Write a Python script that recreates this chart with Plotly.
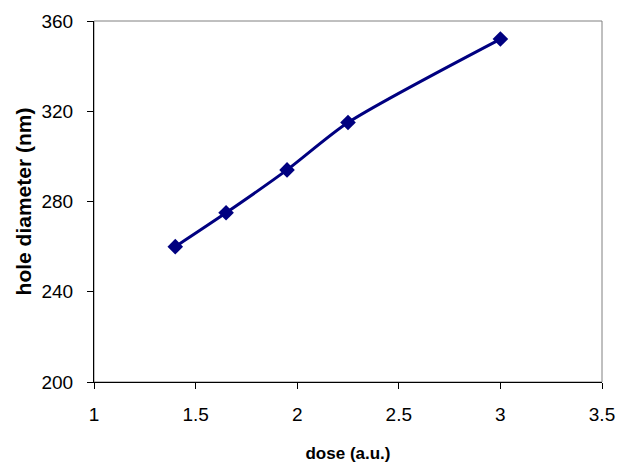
import plotly.graph_objects as go

dose = [1.4, 1.65, 1.95, 2.25, 3.0]
diameter = [260, 275, 294, 315, 352]
x_ticks = [1, 1.5, 2, 2.5, 3, 3.5]
y_ticks = [200, 240, 280, 320, 360]

fig = go.Figure()
fig.add_trace(go.Scatter(
    x=dose, y=diameter, mode="lines+markers",
    line=dict(color="#000080", width=3, shape="spline", smoothing=0.7),
    marker=dict(symbol="diamond", size=12, color="#000080"),
    showlegend=False, cliponaxis=False,
))

font = "Liberation Sans, Arial, sans-serif"
fig.update_layout(
    width=624, height=466,
    margin=dict(l=94, r=22, t=21, b=84, autoexpand=False),
    paper_bgcolor="white", plot_bgcolor="white",
    font=dict(family=font, size=19, color="black"),
    xaxis=dict(range=[1, 3.5], tickvals=x_ticks, ticktext=[str(v) for v in x_ticks],
               showgrid=False, zeroline=False, showline=True, linecolor="black", linewidth=1,
               ticks="outside", ticklen=6, tickcolor="black", ticklabelstandoff=9,
               tickfont=dict(size=19),
               title=dict(text="<b>dose (a.u.)</b>", font=dict(size=17), standoff=23)),
    yaxis=dict(range=[200, 360], tickvals=y_ticks,
               showgrid=False, zeroline=False, showline=True, linecolor="black", linewidth=1,
               ticks="outside", ticklen=6, tickcolor="black", ticklabelstandoff=10,
               tickfont=dict(size=19),
               title=dict(text="<b>hole diameter (nm)</b>", font=dict(size=21), standoff=4)),
    shapes=[dict(type="rect", xref="x domain", yref="y domain", x0=0, y0=0, x1=1, y1=1,
                 line=dict(color="#808080", width=1), layer="below")],
)

fig.write_html("out.html", config={"displayModeBar": False},
               post_script="document.body.style.margin='0';document.body.style.padding='0';")
